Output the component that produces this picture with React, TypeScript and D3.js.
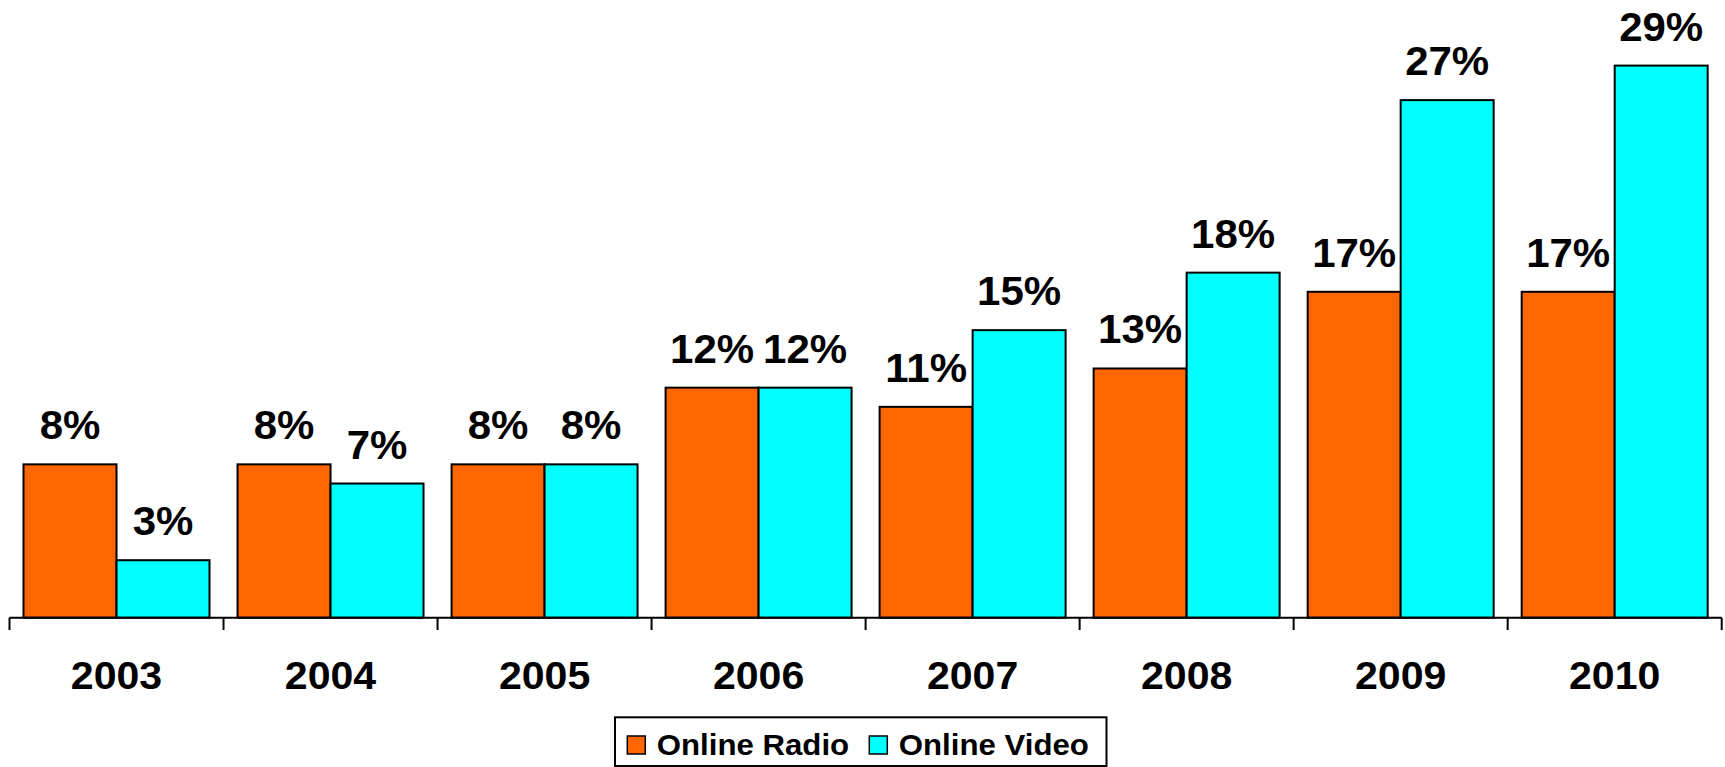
import React from "react";
import * as d3 from "d3";

const years = ["2003", "2004", "2005", "2006", "2007", "2008", "2009", "2010"];
const seriesNames = ["Online Radio", "Online Video"];
const radio = [8, 8, 8, 12, 11, 13, 17, 17];
const video = [3, 7, 8, 12, 15, 18, 27, 28.8];
const colors = ["#FF6600", "#00FFFF"];

const W = 1725;
const H = 767;
const baseY = 617.7;
const unit = 19.17;

export default function App() {
  const x0 = d3
    .scaleBand<string>()
    .domain(years)
    .range([9.5, 1721.7])
    .paddingInner(0.131)
    .paddingOuter(0.0655);
  const x1 = d3
    .scaleBand<string>()
    .domain(seriesNames)
    .range([0, x0.bandwidth()]);
  const y = d3.scaleLinear().domain([0, 30]).range([baseY, baseY - 30 * unit]);
  const step = x0.step();
  const start = 9.5;
  const series = [radio, video];
  const font = "'Liberation Sans', Arial, sans-serif";

  return (
    <div style={{ position: "fixed", left: 0, top: 0 }}>
      <svg width={W} height={H} style={{ display: "block", background: "#fff" }}>
        {years.map((yr, i) =>
          series.map((vals, s) => {
            const bx = (x0(yr) as number) + (x1(seriesNames[s]) as number);
            const bw = x1.bandwidth();
            const v = vals[i];
            return (
              <g key={yr + s}>
                <rect
                  x={bx}
                  y={y(v)}
                  width={bw}
                  height={baseY - y(v)}
                  fill={colors[s]}
                  stroke="#000"
                  strokeWidth={2}
                />
                <text
                  transform={`translate(${bx + bw / 2},${y(v) - 25}) scale(1.05,1)`}
                  textAnchor="middle"
                  fontFamily={font}
                  fontWeight="bold"
                  fontSize={40}
                  fill="#000"
                >
                  {Math.round(v) + "%"}
                </text>
              </g>
            );
          })
        )}
        <line x1={start} x2={start + step * years.length} y1={baseY} y2={baseY} stroke="#000" strokeWidth={2} />
        {d3.range(years.length + 1).map((k) => (
          <line
            key={k}
            x1={start + k * step}
            x2={start + k * step}
            y1={baseY}
            y2={630}
            stroke="#000"
            strokeWidth={2}
          />
        ))}
        {years.map((yr) => (
          <text
            key={yr}
            transform={`translate(${(x0(yr) as number) + x0.bandwidth() / 2},689) scale(1.04,1)`}
            textAnchor="middle"
            fontFamily={font}
            fontWeight="bold"
            fontSize={39.5}
            fill="#000"
          >
            {yr}
          </text>
        ))}
        <rect x={615} y={717.3} width={491.5} height={48.7} fill="#fff" stroke="#000" strokeWidth={2} />
        {seriesNames.map((name, s) => {
          const lx = s === 0 ? 627.3 : 869.3;
          return (
            <g key={name}>
              <rect x={lx} y={736} width={18} height={18} fill={colors[s]} stroke="#000" strokeWidth={1.5} />
              <text
                transform={`translate(${lx + 29.5},755) scale(1.04,1)`}
                fontFamily={font}
                fontWeight="bold"
                fontSize={30}
                fill="#000"
              >
                {name}
              </text>
            </g>
          );
        })}
      </svg>
    </div>
  );
}
